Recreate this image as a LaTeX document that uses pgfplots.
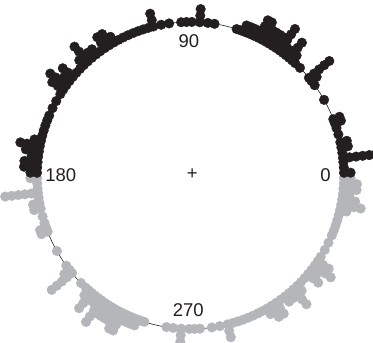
\documentclass[border=0pt]{standalone}
\usepackage{pgfplots}
\pgfplotsset{compat=1.18}
\usepackage{pgfplotstable}
\usepackage{fontspec}
\setmainfont{Liberation Sans}
\definecolor{dotblack}{RGB}{35,31,32}
\definecolor{dotgray}{RGB}{180,182,186}

% angle (deg) and number of stacked dots
\pgfplotstableread{
a n
1 2
3 1
5 1
6.5 6
8.5 1
10.5 2
12.5 2
15.5 1
18 1
20 2
21.5 2
29.5 1
36 1
38 2
39.5 5
44.5 1
47 1
48.5 2
50 4
51.5 2
53 2
54.5 5
56 3
57.5 3
59 3
60.5 3
62 4
63.5 4
65 2
66.5 2
68 2
69.5 2
71 1
72.5 1
81 1
83.5 1
86.5 3
89.5 1
91.5 1
93.5 1
98 1
101 1
104 3
106 1
108 1
110 1
112 1
114 1
116 1
118 1
120 2
122 3
124 3
126 1
128 2
130 2
132 4
134 2
136 1
138 1
140 3
142 2
144 4
146 3
148 1
151 1
154 1
157 1
159 1
161 1
163 1
165 1
167 2
169 4
171 3
173 2
175 3
177 3
179 2
}\bins

\begin{document}
\begin{tikzpicture}
\begin{axis}[name=ax, x=153.5pt, y=153.5pt, scale only axis,
  xmin=-1.241, xmax=1.189, ymin=-1.091, ymax=1.143,
  hide axis, clip=false]
\draw[line width=0.6pt, color=dotblack] (axis cs:0,0) circle[radius=153.5pt];
\pgfplotsinvokeforeach{0,...,5}{
  \addplot[only marks, mark=*, mark size=4.8pt, color=dotgray,
    restrict expr to domain={\thisrow{n}}{#1.5:100}]
    table[x expr={(1+#1*0.043)*cos(\thisrow{a}+180)},
          y expr={(1+#1*0.043)*sin(\thisrow{a}+180)}] {\bins};
}
\pgfplotsinvokeforeach{0,...,5}{
  \addplot[only marks, mark=*, mark size=4.8pt, color=dotblack,
    restrict expr to domain={\thisrow{n}}{#1.5:100}]
    table[x expr={(1+#1*0.043)*cos(\thisrow{a})},
          y expr={(1+#1*0.043)*sin(\thisrow{a})}] {\bins};
}
\begin{scope}[every node/.style={font=\fontsize{18.5}{21}\selectfont, text=dotblack}]
\node at (axis cs:0.880,0) {0};
\node at (axis cs:-0.845,0) {180};
\node at (axis cs:-0.01,0.875) {90};
\node at (axis cs:-0.014,-0.875) {270};
\node at (axis cs:0.012,0.01) {+};
\end{scope}
\end{axis}
\pgfresetboundingbox
\path (ax.south west) rectangle (ax.north east);
\end{tikzpicture}
\end{document}
